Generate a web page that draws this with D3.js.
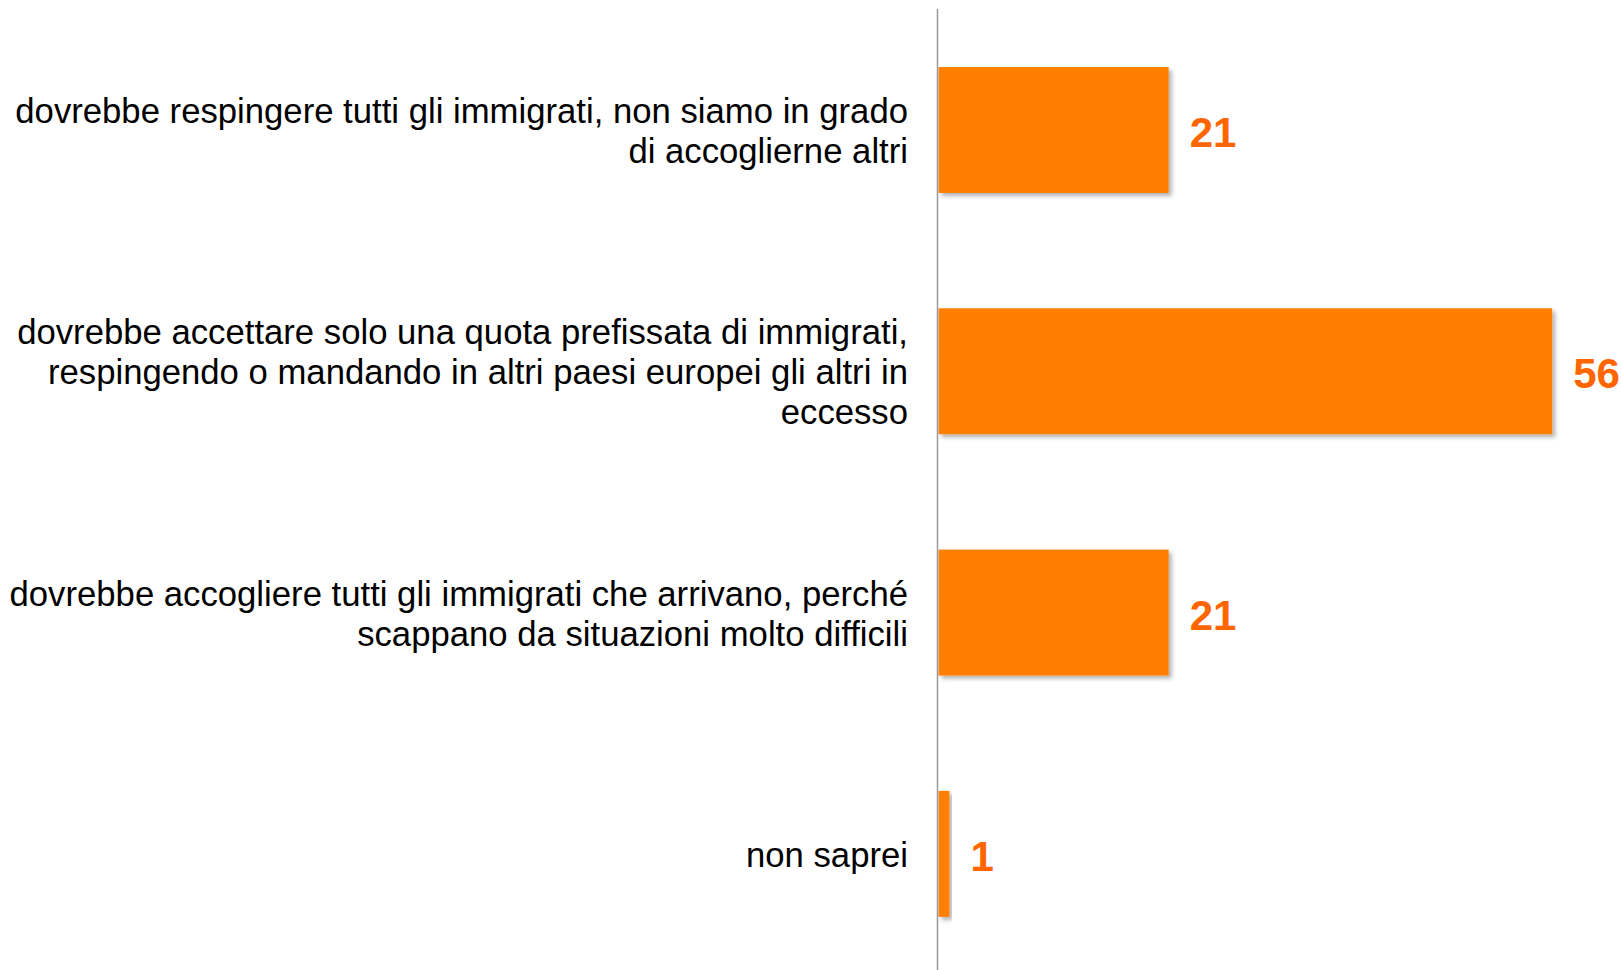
<!DOCTYPE html>
<html>
<head>
<meta charset="utf-8">
<script src="https://cdn.jsdelivr.net/npm/d3@7"></script>
<style>
  html, body { margin: 0; padding: 0; background: #fff; }
  .cat-label { font-family: "Liberation Sans", Arial, Helvetica, sans-serif; font-size: 34.7px; fill: #000; }
  .value-label { font-family: "Liberation Sans", Arial, Helvetica, sans-serif; font-size: 42px; font-weight: bold; fill: #ff6600; }
</style>
</head>
<body>
<div class="content"></div>
<script>
const categories = [
  "respingere",
  "quota",
  "accogliere",
  "non saprei"
];
const labelLines = [
  ["dovrebbe respingere tutti gli immigrati, non siamo in grado", "di accoglierne altri"],
  ["dovrebbe accettare solo una quota prefissata di immigrati,", "respingendo o mandando in altri paesi europei gli altri in", "eccesso"],
  ["dovrebbe accogliere tutti gli immigrati che arrivano, perché", "scappano da situazioni molto difficili"],
  ["non saprei"]
];
const values = [21, 56, 21, 1];

const width = 1621;
const height = 970;

const xScale = d3.scaleLinear().domain([0, 60]).range([938.5, 1596]);
const yScale = d3
  .scaleBand()
  .domain(categories)
  .range([9.35, 974.5])
  .paddingInner(0.478)
  .paddingOuter(0.239);

const svg = d3
  .select(".content")
  .append("svg")
  .attr("width", width)
  .attr("height", height);

//--> bar shadow
const defs = svg.append("defs");
const filter = defs
  .append("filter")
  .attr("id", "shadow")
  .attr("x", "-10%")
  .attr("y", "-10%")
  .attr("width", "130%")
  .attr("height", "130%");
filter
  .append("feDropShadow")
  .attr("dx", 3)
  .attr("dy", 3)
  .attr("stdDeviation", 2)
  .attr("flood-color", "#000")
  .attr("flood-opacity", 0.3);

//--> bars
svg
  .selectAll("rect.bar")
  .data(values)
  .enter()
  .append("rect")
  .attr("class", "bar")
  .attr("x", xScale(0))
  .attr("y", (d, i) => yScale(categories[i]))
  .attr("width", d => xScale(d) - xScale(0))
  .attr("height", yScale.bandwidth())
  .attr("fill", "#ff7f00")
  .attr("filter", "url(#shadow)");

//--> axis line
svg
  .append("line")
  .attr("x1", xScale(0) - 1)
  .attr("x2", xScale(0) - 1)
  .attr("y1", 9)
  .attr("y2", height)
  .attr("stroke", "#999")
  .attr("stroke-width", 1.5);

//--> value labels
svg
  .selectAll("text.value-label")
  .data(values)
  .enter()
  .append("text")
  .attr("class", "value-label")
  .attr("x", d => xScale(d) + 21)
  .attr("y", (d, i) => yScale(categories[i]) + yScale.bandwidth() / 2 + 17)
  .text(d => d);

//--> category labels
const lineHeight = 40;
const catText = svg
  .selectAll("text.cat-label")
  .data(labelLines)
  .enter()
  .append("text")
  .attr("class", "cat-label")
  .attr("text-anchor", "end");

catText.each(function (lines, i) {
  const cy = yScale(categories[i]) + yScale.bandwidth() / 2;
  d3.select(this)
    .selectAll("tspan")
    .data(lines)
    .enter()
    .append("tspan")
    .attr("x", 908)
    .attr("y", (l, j) => cy + 13 + (j - (lines.length - 1) / 2) * lineHeight)
    .text(l => l);
});
</script>
</body>
</html>
